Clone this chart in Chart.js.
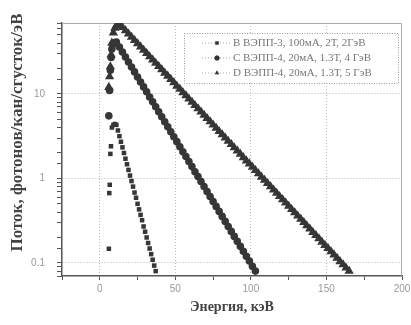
<!DOCTYPE html>
<html>
<head>
<meta charset="utf-8">
<script src="https://cdn.jsdelivr.net/npm/chart.js@4/dist/chart.umd.min.js"></script>
<style>
  html, body { margin: 0; padding: 0; background: #fff; }
  #wrap { width: 411px; height: 325px; }
</style>
</head>
<body>
<div id="wrap"><canvas id="chart" width="411" height="325"></canvas></div>
<script>
// B: ВЭПП-3, 100мА, 2Т, 2ГэВ (squares)
const bX = [6, 6.3, 6.6, 7, 7.4, 8, 9, 10, 11, 12, 13, 14, 15, 16, 17, 18, 19, 20, 21, 22, 23, 24,
  25, 26, 27, 28, 29, 30, 31, 32, 33, 34, 35, 36, 37];
const bY = [0.147, 0.67, 0.84, 1.95, 2.4, 4.0, 4.3, 4.4, 4.3, 3.69, 3.16, 2.71, 2.33, 2.0, 1.71, 1.47,
  1.26, 1.08, 0.93, 0.80, 0.68, 0.59, 0.50, 0.43, 0.37, 0.32, 0.27, 0.234, 0.20, 0.172, 0.148, 0.127,
  0.109, 0.093, 0.080];

// C: ВЭПП-4, 20мА, 1.3Т, 4 ГэВ (circles)
const cX = [6, 6.5, 7, 7.5, 8, 9, 10, 11, 13, 15, 17, 19, 21, 23, 25, 27, 29, 31, 33, 35, 37, 39, 41,
  43, 45, 47, 49, 51, 53, 55, 57, 59, 61, 63, 65, 67, 69, 71, 73, 75, 77, 79, 81, 83, 85, 87, 89, 91,
  93, 95, 97, 99, 101, 103];
const cY = [5.5, 11, 19, 27, 34, 39, 40.5, 41.0, 35.8, 31.3, 27.3, 23.8, 20.8, 18.2, 15.8, 13.8, 12.1,
  10.6, 9.2, 8.05, 7.03, 6.14, 5.36, 4.68, 4.08, 3.56, 3.11, 2.72, 2.37, 2.07, 1.81, 1.58, 1.38, 1.20,
  1.05, 0.918, 0.802, 0.700, 0.611, 0.533, 0.466, 0.407, 0.355, 0.310, 0.270, 0.236, 0.206, 0.180,
  0.157, 0.137, 0.120, 0.105, 0.091, 0.080];

// D: ВЭПП-4, 20мА, 1.3Т, 5 ГэВ (triangles)
const dX = [6, 6.5, 7, 7.5, 8, 9, 10, 11, 12, 13, 15, 17, 19, 21, 23, 25, 27, 29, 31, 33, 35, 37, 39,
  41, 43, 45, 47, 49, 51, 53, 55, 57, 59, 61, 63, 65, 67, 69, 71, 73, 75, 77, 79, 81, 83, 85, 87, 89,
  91, 93, 95, 97, 99, 101, 103, 105, 107, 109, 111, 113, 115, 117, 119, 121, 123, 125, 127, 129, 131,
  133, 135, 137, 139, 141, 143, 145, 147, 149, 151, 153, 155, 157, 159, 161, 163, 165];
const dY = [12, 16, 21, 29, 40, 53, 60, 64, 66.5, 67.0, 61.3, 56.1, 51.4, 47.0, 43.0, 39.4, 36.1, 33.0,
  30.2, 27.6, 25.3, 23.1, 21.2, 19.4, 17.7, 16.3, 14.9, 13.6, 12.4, 11.4, 10.4, 9.55, 8.73, 8.00, 7.31,
  6.70, 6.13, 5.61, 5.14, 4.70, 4.30, 3.94, 3.60, 3.30, 3.02, 2.76, 2.53, 2.31, 2.12, 1.94, 1.77, 1.62,
  1.49, 1.36, 1.245, 1.14, 1.04, 0.955, 0.874, 0.800, 0.732, 0.670, 0.612, 0.561, 0.514, 0.470, 0.430,
  0.394, 0.360, 0.330, 0.302, 0.276, 0.253, 0.231, 0.212, 0.194, 0.177, 0.162, 0.149, 0.136, 0.125,
  0.114, 0.104, 0.0955, 0.0873, 0.080];

const seriesLabels = ['B ВЭПП-3, 100мА, 2Т, 2ГэВ', 'C ВЭПП-4, 20мА, 1.3Т, 4 ГэВ', 'D ВЭПП-4, 20мА, 1.3Т, 5 ГэВ'];
const xTickLabels = [0, 50, 100, 150, 200];
const yTickLabels = [0.1, 1, 10];

const markColor = '#363636';
const pts = (xs, ys) => xs.map((x, i) => ({ x: x, y: ys[i] }));
const isDecade = v => yTickLabels.some(t => Math.abs(v - t) / t < 1e-6);
// dense markers on the falling side look like a band: join them there only
const bandSeg = { borderColor: c => c.p0.parsed.x < 9 ? 'transparent' : markColor };

// legend box inside the plot, top right
const boxLegend = {
  id: 'boxLegend',
  afterDraw(chart) {
    const ctx = chart.ctx, a = chart.chartArea;
    const bx = a.right - 218, by = a.top + 10, bw = 214, bh = 50;
    ctx.save();
    ctx.fillStyle = '#fff';
    ctx.fillRect(bx, by, bw, bh);
    ctx.strokeStyle = '#999';
    ctx.lineWidth = 1;
    ctx.setLineDash([1, 1.5]);
    ctx.strokeRect(bx + 0.5, by + 0.5, bw, bh);
    chart.data.datasets.forEach((ds, i) => {
      const y = by + 10 + i * 15;
      const mx = bx + 33;
      ctx.setLineDash([1, 2]);
      ctx.strokeStyle = '#aaa';
      ctx.beginPath();
      ctx.moveTo(mx - 15, y);
      ctx.lineTo(mx + 13, y);
      ctx.stroke();
      ctx.setLineDash([]);
      Chart.helpers.drawPoint(ctx, { pointStyle: ds.pointStyle, radius: 2.5, borderWidth: 0 }, mx, y);
      ctx.fillStyle = markColor;
      ctx.fill();
      ctx.fillStyle = '#777';
      ctx.font = '11px "Liberation Serif"';
      ctx.textBaseline = 'middle';
      ctx.fillText(ds.label, bx + 49, y);
    });
    ctx.restore();
  }
};

// light frame on top and right
const frame = {
  id: 'frame',
  beforeDatasetsDraw(chart) {
    const ctx = chart.ctx, a = chart.chartArea;
    ctx.save();
    ctx.strokeStyle = '#aaa';
    ctx.lineWidth = 1;
    ctx.beginPath();
    ctx.moveTo(a.left, a.top + 0.5);
    ctx.lineTo(a.right - 0.5, a.top + 0.5);
    ctx.lineTo(a.right - 0.5, a.bottom);
    ctx.stroke();
    ctx.restore();
  }
};

new Chart(document.getElementById('chart').getContext('2d'), {
  type: 'scatter',
  data: {
    datasets: [
      { label: seriesLabels[0], data: pts(bX, bY), pointStyle: 'rect', pointRadius: 3.2,
        backgroundColor: markColor, borderWidth: 0 },
      { label: seriesLabels[1], data: pts(cX, cY), pointStyle: 'circle', pointRadius: 2.7,
        backgroundColor: markColor, borderColor: markColor, borderWidth: 2.2, showLine: true, segment: bandSeg },
      { label: seriesLabels[2], data: pts(dX, dY), pointStyle: 'triangle', pointRadius: 3.2,
        backgroundColor: markColor, borderColor: markColor, borderWidth: 2.2, showLine: true, segment: bandSeg }
    ]
  },
  options: {
    responsive: false,
    animation: false,
    layout: { padding: { top: 23, right: 9, left: 0, bottom: 0 } },
    elements: { point: { borderWidth: 0 } },
    plugins: { legend: { display: false }, tooltip: { enabled: false } },
    scales: {
      x: {
        type: 'linear',
        min: -25,
        max: 200,
        ticks: {
          stepSize: 25,
          color: '#999',
          font: { family: 'Liberation Sans', size: 10 },
          padding: 3,
          maxRotation: 0,
          autoSkip: false,
          callback: v => xTickLabels.includes(v) ? String(v) : ''
        },
        grid: {
          color: c => (c.tick && xTickLabels.includes(c.tick.value) && c.tick.value < 200) ? '#bbb' : 'transparent',
          tickColor: '#555',
          tickLength: 4,
          tickBorderDash: []
        },
        border: { color: '#555', width: 1.5, dash: [1, 2] },
        title: {
          display: true,
          text: 'Энергия, кэВ',
          color: '#444',
          font: { family: 'Liberation Serif', size: 14, weight: 'bold' },
          padding: { top: 0, bottom: 9 }
        },
        afterFit: s => { s.height = 49; s.paddingLeft = 0; s.paddingRight = 0; }
      },
      y: {
        type: 'logarithmic',
        min: 0.07,
        max: 69,
        ticks: {
          color: '#999',
          font: { family: 'Liberation Sans', size: 10 },
          padding: 12,
          autoSkip: false,
          callback: v => isDecade(v) ? String(v) : ''
        },
        grid: {
          color: c => (c.tick && isDecade(c.tick.value)) ? '#bbb' : 'transparent',
          tickColor: '#555',
          tickLength: 5,
          tickBorderDash: []
        },
        border: { color: '#555', width: 1.5, dash: [1, 2] },
        title: {
          display: true,
          // leading spaces push the rotated title up, as in the original
          text: '        Поток, фотонов/кан/сгусток/эВ',
          color: '#444',
          font: { family: 'Liberation Serif', size: 17, weight: 'bold' },
          padding: { top: 7, bottom: 0 }
        },
        afterFit: s => { s.width = 62; s.paddingTop = 0; s.paddingBottom = 0; }
      }
    }
  },
  plugins: [frame, boxLegend]
});
</script>
</body>
</html>
